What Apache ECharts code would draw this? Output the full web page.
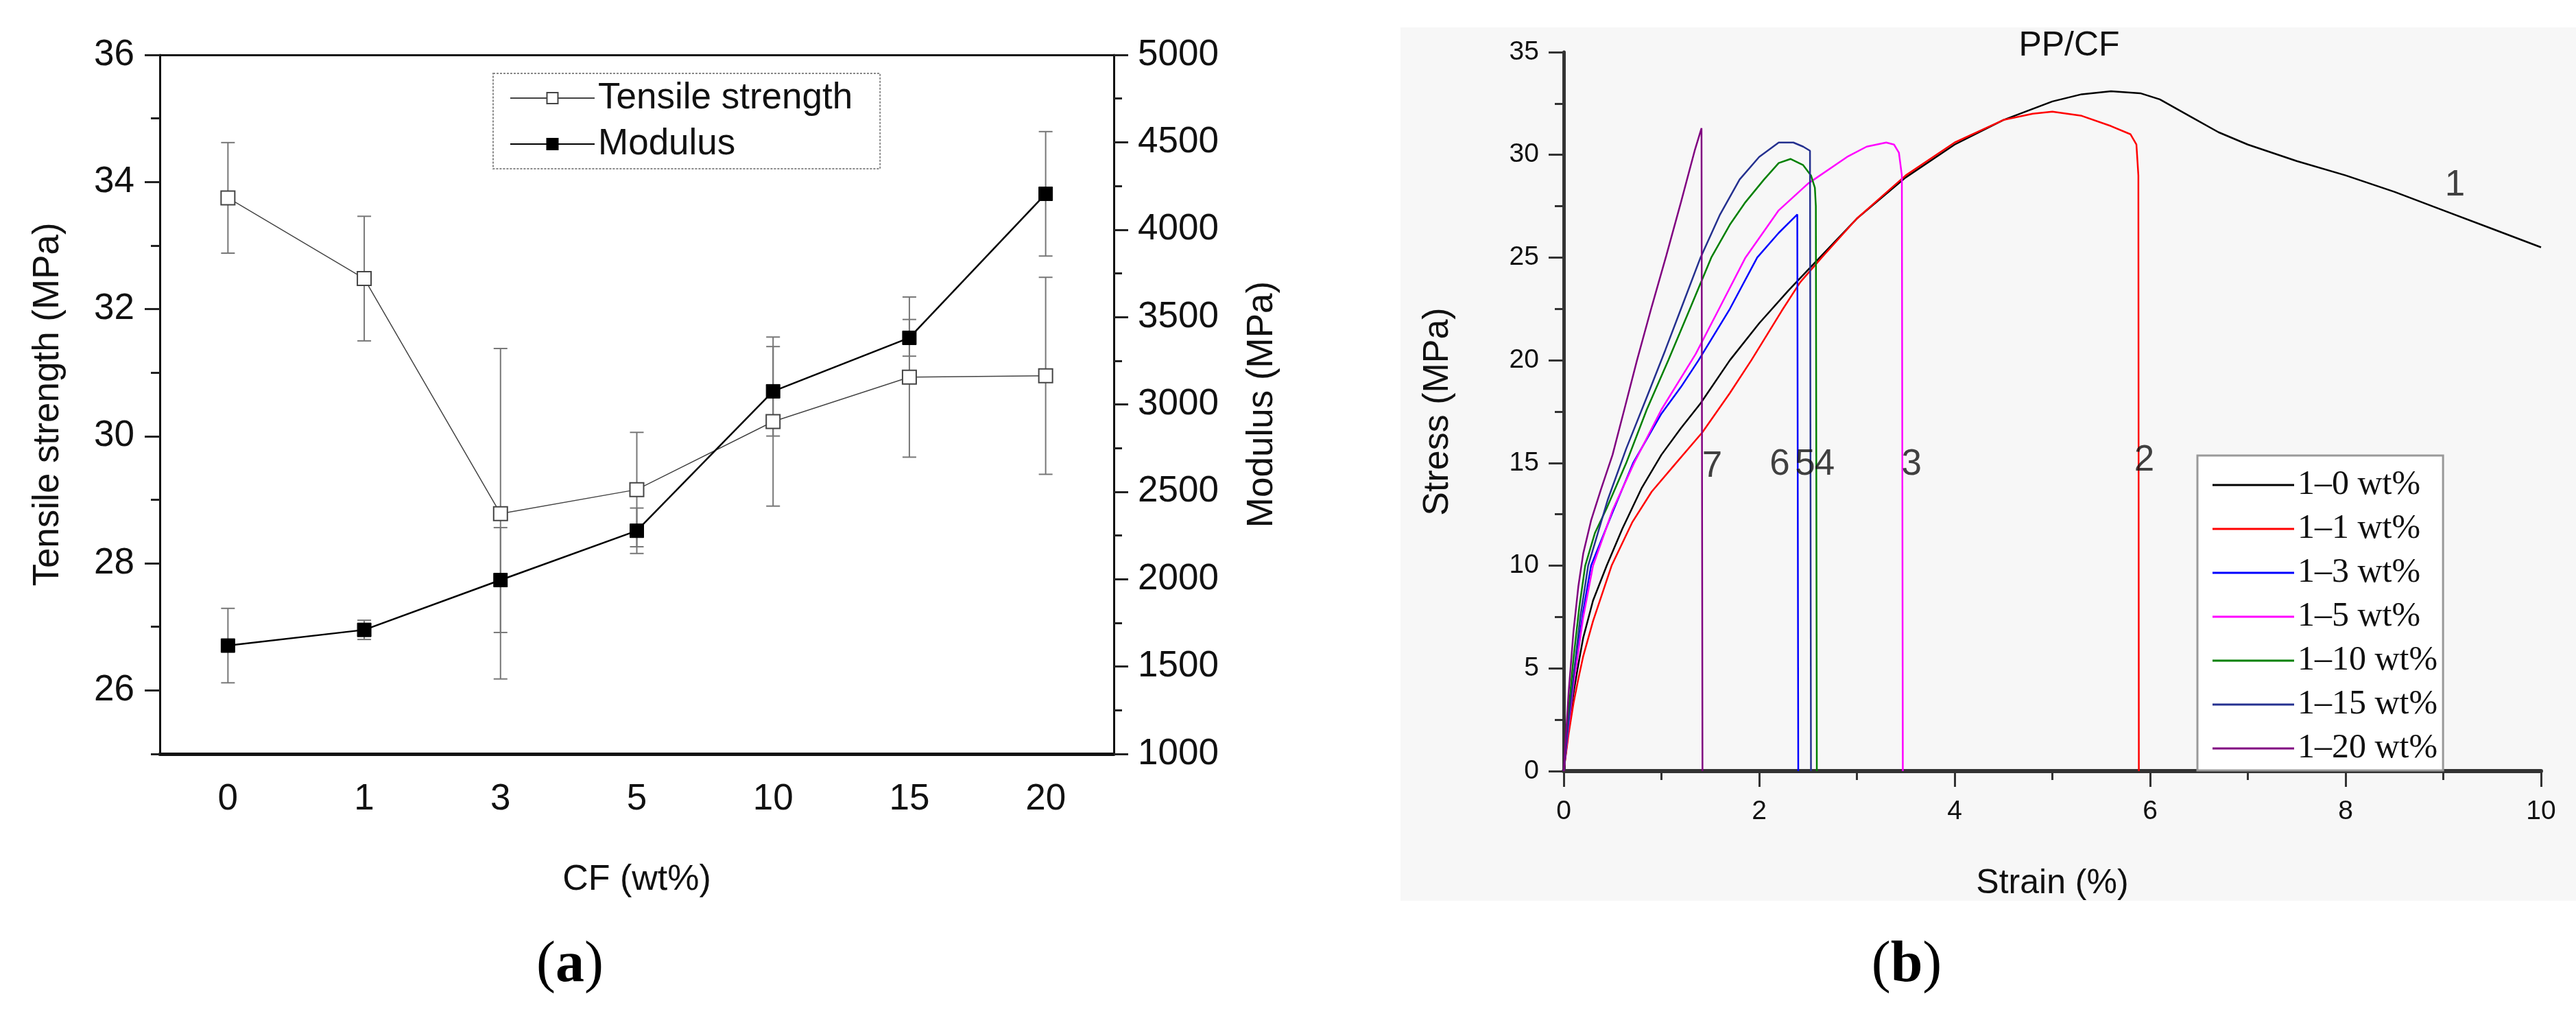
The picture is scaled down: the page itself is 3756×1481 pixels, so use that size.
<!DOCTYPE html>
<html>
<head>
<meta charset="utf-8">
<script src="https://cdn.jsdelivr.net/npm/echarts@6/dist/echarts.min.js"></script>
<style>
  html, body { margin: 0; padding: 0; background: #fff; }
  #chart { width: 3756px; height: 1481px; }
</style>
</head>
<body>
<div id="chart"></div>
<script>
// (a) tensile strength / modulus vs CF content
const cfLabels = ['0', '1', '3', '5', '10', '15', '20'];
const tensile = [33.75, 32.48, 28.78, 29.16, 30.23, 30.93, 30.95];
const tensileErr = [0.87, 0.98, 2.60, 0.90, 1.33, 1.26, 1.55];
const modulus = [1620, 1710, 1995, 2277, 3075, 3381, 4205];
const modulusErr = [213, 55, 300, 130, 256, 105, 356];
const tensileTicks = [26, 28, 30, 32, 34, 36];
const tensileMinorTicks = [25, 27, 29, 31, 33, 35];

// (b) stress-strain curves, [strain %, stress MPa]
const curveNames = ['1\u20130 wt%', '1\u20131 wt%', '1\u20133 wt%', '1\u20135 wt%', '1\u201310 wt%', '1\u201315 wt%', '1\u201320 wt%'];
const curveColors = ['#000000', '#ff0000', '#0000ff', '#ff00ff', '#008000', '#24308f', '#800080'];
const cf0 = [[0,0],[0.05,2.0],[0.1,3.8],[0.15,5.2],[0.2,6.5],[0.3,8.3],[0.44,10],[0.6,11.8],[0.8,13.8],[1.0,15.4],[1.2,16.7],[1.4,17.9],[1.7,20.0],[2.0,21.8],[2.3,23.4],[2.6,24.9],[3.0,26.9],[3.5,28.9],[4.0,30.5],[4.5,31.7],[5.0,32.6],[5.3,32.95],[5.6,33.1],[5.9,33.0],[6.1,32.7],[6.4,31.9],[6.7,31.1],[7.0,30.5],[7.5,29.7],[8.0,29.0],[8.5,28.2],[9.0,27.3],[9.5,26.4],[10.0,25.5]];
const cf1 = [[0,0],[0.05,1.8],[0.1,3.3],[0.15,4.5],[0.2,5.6],[0.3,7.3],[0.49,10],[0.7,12.1],[0.9,13.6],[1.15,15.0],[1.42,16.5],[1.7,18.4],[1.92,20.0],[2.23,22.4],[2.42,23.8],[2.64,25.0],[3.0,26.9],[3.5,29.0],[4.0,30.6],[4.5,31.7],[4.8,32.0],[5.0,32.1],[5.3,31.9],[5.6,31.4],[5.8,31.0],[5.86,30.5],[5.88,29.0],[5.885,0]];
const cf3 = [[0,0],[0.05,2.4],[0.1,4.5],[0.2,7.8],[0.28,10],[0.5,12.6],[0.71,15.0],[1.0,17.4],[1.2,18.7],[1.38,20.0],[1.7,22.5],[1.98,25.0],[2.2,26.2],[2.39,27.1],[2.4,0]];
const cf5 = [[0,0],[0.05,2.2],[0.1,4.2],[0.2,7.5],[0.3,10],[0.5,12.7],[0.72,15.0],[1.0,17.6],[1.35,20.3],[1.6,22.6],[1.86,25.0],[2.2,27.3],[2.5,28.6],[2.9,29.9],[3.1,30.4],[3.3,30.6],[3.38,30.5],[3.43,30.1],[3.46,29.0],[3.47,0]];
const cf10 = [[0,0],[0.05,2.9],[0.1,5.5],[0.16,8.0],[0.22,10],[0.32,11.6],[0.44,12.8],[0.64,15.0],[0.85,17.6],[1.07,20.0],[1.3,22.6],[1.51,25.0],[1.7,26.6],[1.86,27.7],[2.05,28.8],[2.2,29.6],[2.32,29.8],[2.45,29.5],[2.53,29.0],[2.57,28.4],[2.58,27.5],[2.59,0]];
const cf15 = [[0,0],[0.05,2.4],[0.1,4.6],[0.17,7.5],[0.25,10],[0.45,13.2],[0.64,15.7],[0.85,18.2],[1.04,20.5],[1.2,22.5],[1.4,25.0],[1.6,27.1],[1.8,28.8],[2.0,29.9],[2.2,30.6],[2.35,30.6],[2.45,30.4],[2.52,30.2],[2.53,0]];
const cf20 = [[0,0],[0.05,3.8],[0.1,6.8],[0.15,9.0],[0.2,10.6],[0.28,12.2],[0.38,13.7],[0.5,15.4],[0.62,17.6],[0.75,20.0],[0.9,22.6],[1.05,25.1],[1.2,27.7],[1.34,30.2],[1.41,31.3],[1.42,0]];
const curves = [cf0, cf1, cf3, cf5, cf10, cf15, cf20];

// curve number labels placed in data coordinates
const curveTags = ['1', '2', '3', '4', '5', '6', '7'];
const curveTagPos = [[9.12, 28.5], [5.94, 15.1], [3.56, 14.9], [2.67, 14.9], [2.47, 14.9], [2.21, 14.9], [1.52, 14.8]];

const sans = 'Liberation Sans';
const serif = 'Liberation Serif';

var chart = echarts.init(document.getElementById('chart'), null, { renderer: 'canvas' });

function errorBar(color) {
  return function (params, api) {
    var i = api.value(0);
    var lo = api.coord([i, api.value(1)]);
    var hi = api.coord([i, api.value(2)]);
    var w = 10;
    var st = { stroke: color, lineWidth: 2 };
    return {
      type: 'group',
      children: [
        { type: 'line', shape: { x1: lo[0], y1: lo[1], x2: hi[0], y2: hi[1] }, style: st },
        { type: 'line', shape: { x1: lo[0] - w, y1: lo[1], x2: lo[0] + w, y2: lo[1] }, style: st },
        { type: 'line', shape: { x1: hi[0] - w, y1: hi[1], x2: hi[0] + w, y2: hi[1] }, style: st }
      ]
    };
  };
}

const tensileBars = tensile.map((v, i) => [i, v - tensileErr[i], v + tensileErr[i]]);
const modulusBars = modulus.map((v, i) => [i, v - modulusErr[i], v + modulusErr[i]]);

const curveSeries = curves.map((d, k) => ({
  name: curveNames[k],
  type: 'line',
  xAxisIndex: 2,
  yAxisIndex: 3,
  data: d,
  symbol: 'none',
  smooth: false,
  lineStyle: { color: curveColors[k], width: 2.5 },
  itemStyle: { color: curveColors[k] },
  z: 3
}));

const captionRich = {
  p: { fontFamily: serif, fontSize: 84, fill: '#000' },
  b: { fontFamily: serif, fontSize: 84, fontWeight: 'bold', fill: '#000' }
};

const option = {
  backgroundColor: '#ffffff',
  animation: false,
  textStyle: { fontFamily: sans, color: '#111' },
  graphic: {
    elements: [
      { type: 'rect', z: -100, silent: true, shape: { x: 2042, y: 40, width: 1714, height: 1273 }, style: { fill: '#f7f7f7' } },
      { type: 'text', x: 3017, y: 67, style: { text: 'PP/CF', font: '50px "Liberation Sans"', fill: '#111', align: 'center', verticalAlign: 'middle' } },
      { type: 'text', x: 831, y: 1408, style: { text: '{p|(}{b|a}{p|)}', align: 'center', verticalAlign: 'middle', rich: captionRich } },
      { type: 'text', x: 2780, y: 1408, style: { text: '{p|(}{b|b}{p|)}', align: 'center', verticalAlign: 'middle', rich: captionRich } }
    ]
  },
  grid: [
    { left: 233, top: 80, width: 1391, height: 1019 },
    { left: 2280, top: 76, width: 1425, height: 1048 }
  ],
  legend: [
    {
      data: ['Tensile strength', 'Modulus'],
      orient: 'vertical',
      left: 719, top: 107,
      padding: [6, 40, 6, 24],
      itemWidth: 123, itemHeight: 20, itemGap: 7,
      textStyle: { fontFamily: sans, fontSize: 53, lineHeight: 60, color: '#111' },
      borderColor: '#888', borderWidth: 2, borderType: [3, 2],
      backgroundColor: '#fff'
    },
    {
      data: curveNames.map((n) => ({ name: n, icon: 'rect' })),
      orient: 'vertical',
      left: 3204, top: 664,
      padding: [15, 8, 4, 22],
      itemWidth: 119, itemHeight: 3, itemGap: 8,
      textStyle: { fontFamily: serif, fontSize: 50, lineHeight: 56, color: '#111' },
      borderColor: '#999', borderWidth: 3,
      backgroundColor: '#fff'
    }
  ],
  xAxis: [
    {
      gridIndex: 0, type: 'category', data: cfLabels, position: 'bottom', boundaryGap: true,
      axisLine: { lineStyle: { color: '#111', width: 5 } },
      axisTick: { alignWithLabel: true, length: 23, lineStyle: { color: '#222', width: 3 } },
      axisLabel: { fontFamily: sans, fontSize: 53, margin: 40, color: '#111' },
      splitLine: { show: false },
      name: 'CF (wt%)', nameLocation: 'middle', nameGap: 158,
      nameTextStyle: { fontFamily: sans, fontSize: 52, color: '#111' }
    },
    {
      gridIndex: 0, type: 'category', data: cfLabels, position: 'top', boundaryGap: true,
      axisLine: { lineStyle: { color: '#111', width: 3 } },
      axisTick: { inside: true, alignWithLabel: true, length: 22, lineStyle: { color: '#222', width: 3 } },
      axisLabel: { show: false },
      splitLine: { show: false }
    },
    {
      gridIndex: 1, type: 'value', min: 0, max: 10, interval: 2,
      axisLine: { onZero: false, lineStyle: { color: '#333', width: 6 } },
      axisTick: { length: 23, lineStyle: { color: '#333', width: 3 } },
      minorTick: { show: true, splitNumber: 2, length: 13, lineStyle: { color: '#333', width: 3 } },
      axisLabel: { fontFamily: sans, fontSize: 39, margin: 40, color: '#111' },
      splitLine: { show: false },
      name: 'Strain (%)', nameLocation: 'middle', nameGap: 139,
      nameTextStyle: { fontFamily: sans, fontSize: 50, color: '#111' }
    }
  ],
  yAxis: [
    {
      gridIndex: 0, type: 'value', min: 25, max: 36, position: 'left',
      axisLine: { show: true, lineStyle: { color: '#111', width: 3 } },
      axisTick: { show: true, customValues: tensileTicks, length: 22, lineStyle: { color: '#222', width: 3 } },
      axisLabel: { customValues: tensileTicks, fontFamily: sans, fontSize: 53, margin: 37, color: '#111' },
      splitLine: { show: false },
      name: 'Tensile strength (MPa)', nameLocation: 'middle', nameGap: 136, nameRotate: 90,
      nameTextStyle: { fontFamily: sans, fontSize: 53, color: '#111' }
    },
    {
      gridIndex: 0, type: 'value', min: 1000, max: 5000, interval: 500, position: 'right',
      axisLine: { show: true, lineStyle: { color: '#111', width: 3 } },
      axisTick: { show: true, length: 21, lineStyle: { color: '#222', width: 3 } },
      minorTick: { show: true, splitNumber: 2, length: 12, lineStyle: { color: '#222', width: 3 } },
      axisLabel: { fontFamily: sans, fontSize: 53, margin: 35, color: '#111', formatter: (v) => String(v) },
      splitLine: { show: false },
      name: 'Modulus (MPa)', nameLocation: 'middle', nameGap: 190, nameRotate: 90,
      nameTextStyle: { fontFamily: sans, fontSize: 53, color: '#111' }
    },
    {
      gridIndex: 0, type: 'value', min: 25, max: 36, position: 'left',
      axisLine: { show: false },
      axisTick: { show: true, customValues: tensileMinorTicks, length: 13, lineStyle: { color: '#222', width: 3 } },
      axisLabel: { show: false },
      splitLine: { show: false }
    },
    {
      gridIndex: 1, type: 'value', min: 0, max: 35, interval: 5,
      axisLine: { show: true, onZero: false, lineStyle: { color: '#333', width: 5 } },
      axisTick: { show: true, length: 22, lineStyle: { color: '#333', width: 3 } },
      minorTick: { show: true, splitNumber: 2, length: 13, lineStyle: { color: '#333', width: 3 } },
      axisLabel: { fontFamily: sans, fontSize: 39, margin: 36, color: '#111' },
      splitLine: { show: false },
      name: 'Stress (MPa)', nameLocation: 'middle', nameGap: 157, nameRotate: 90,
      nameTextStyle: { fontFamily: sans, fontSize: 52, color: '#111' }
    }
  ],
  series: [
    {
      type: 'custom', xAxisIndex: 0, yAxisIndex: 0, data: tensileBars,
      encode: { x: 0, y: [1, 2] }, renderItem: errorBar('#777'), z: 1, silent: true
    },
    {
      type: 'custom', xAxisIndex: 0, yAxisIndex: 1, data: modulusBars,
      encode: { x: 0, y: [1, 2] }, renderItem: errorBar('#777'), z: 1, silent: true
    },
    {
      name: 'Tensile strength', type: 'line', xAxisIndex: 0, yAxisIndex: 0, data: tensile,
      symbol: 'rect', symbolSize: 20, showAllSymbol: true,
      lineStyle: { color: '#444', width: 1.5 },
      itemStyle: { color: '#fff', borderColor: '#444', borderWidth: 2 },
      z: 3
    },
    {
      name: 'Modulus', type: 'line', xAxisIndex: 0, yAxisIndex: 1, data: modulus,
      symbol: 'rect', symbolSize: 20, showAllSymbol: true,
      lineStyle: { color: '#000', width: 2.5 },
      itemStyle: { color: '#000', borderColor: '#000', borderWidth: 1 },
      z: 4
    },
    ...curveSeries,
    {
      type: 'scatter', xAxisIndex: 2, yAxisIndex: 3, data: curveTagPos,
      symbolSize: 1, itemStyle: { color: 'transparent' }, silent: true,
      label: {
        show: true, position: 'inside',
        formatter: (p) => curveTags[p.dataIndex],
        fontFamily: sans, fontSize: 53, color: '#111'
      },
      z: 5
    }
  ]
};

chart.setOption(option);
</script>
</body>
</html>
